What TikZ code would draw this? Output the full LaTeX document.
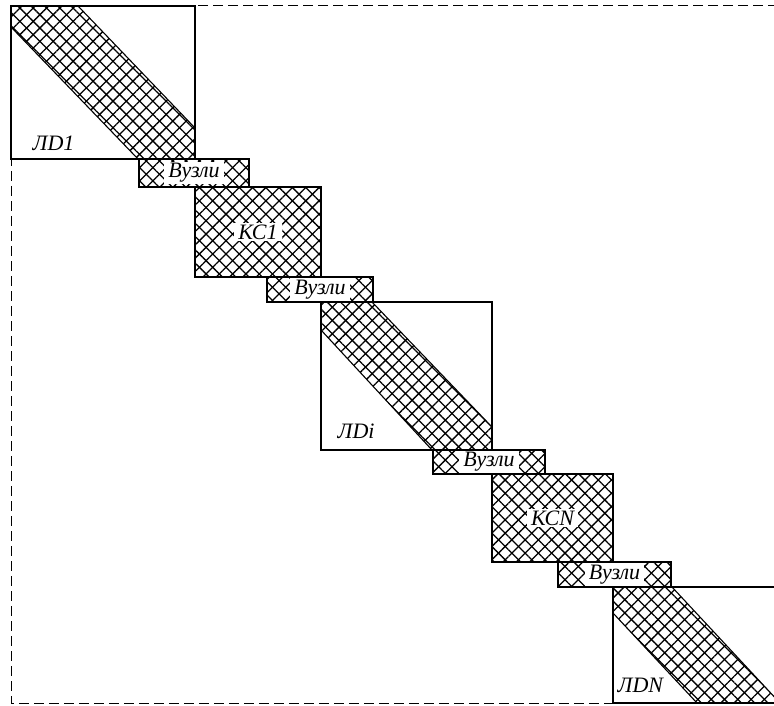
\documentclass[tikz,border=0pt]{standalone}
\usepackage{fontspec}
\setmainfont{Liberation Serif}
\usetikzlibrary{calc,patterns.meta}

\tikzset{
  hatch/.style={preaction={pattern={Lines[angle=45,distance=9.4pt,line width=1.3pt]}},
    pattern={Lines[angle=-45,distance=9.4pt,line width=1.3pt]}},
  box/.style={draw,line width=1.1pt},
  lbl/.style={font=\fontsize{22}{24}\selectfont\itshape,inner sep=1.5pt},
  wlbl/.style={lbl,fill=white,inner xsep=4pt}
}

\begin{document}
\begin{tikzpicture}[x=1pt,y=-1pt]
\useasboundingbox (0,0) rectangle (774,706);
\clip (0,0) rectangle (774,706);
% corners of the blocks
\coordinate (LDa) at (11,6);
\coordinate (LDb) at (195,159);
\coordinate (Va) at (139,159);
\coordinate (Vb) at (249,187);
\coordinate (KCa) at (195,187);
\coordinate (KCb) at (321,277);
\coordinate (Vc) at (267,277);
\coordinate (Vd) at (373,302);
\coordinate (LDc) at (321,302);
\coordinate (LDd) at (492,450);
\coordinate (Ve) at (433,450);
\coordinate (Vf) at (545,474);
\coordinate (KCc) at (492,474);
\coordinate (KCd) at (613,562);
\coordinate (Vg) at (558,562);
\coordinate (Vh) at (671,587);
\coordinate (LDe) at (613,587);
\coordinate (LDf) at (786,703);
% outer frame
\draw[dashed,dash pattern=on 10pt off 5pt,line width=1pt] (LDa) rectangle (800,703);
% diagonal bands
\fill[white] (LDa) rectangle (LDb);
\draw[hatch,line width=1.1pt] (11,6)--(78,6)--(195,128)--(195,159)--(138,159)--(11,27)--cycle;
\fill[white] (LDc) rectangle (LDd);
\draw[hatch,line width=1.1pt] (321,302)--(372,302)--(492,427)--(492,450)--(432,450)--(321,330)--cycle;
\fill[white] (LDe) rectangle (LDf);
\draw[hatch,line width=1.1pt] (613,587)--(672,587)--(780,703)--(697,703)--(613,613)--cycle;
\draw[box] (LDa) rectangle (LDb);
\draw[box] (LDc) rectangle (LDd);
\draw[box] (LDe) rectangle (LDf);
% nodes and subsystems
\draw[box,hatch] (Va) rectangle (Vb);
\draw[box,hatch] (KCa) rectangle (KCb);
\draw[box,hatch] (Vc) rectangle (Vd);
\draw[box,hatch] (Ve) rectangle (Vf);
\draw[box,hatch] (KCc) rectangle (KCd);
\draw[box,hatch] (Vg) rectangle (Vh);
% labels
\node[lbl,anchor=base west] (ld1) at (31,150) {ЛD1};
\node[lbl,anchor=base west] (ldi) at (336,438) {ЛDi};
\node[lbl,anchor=base west] (ldn) at (616,692) {ЛDN};
\node[wlbl] (v1) at ($(Va)!0.5!(Vb)$) {Вузли};
\node[wlbl] (v2) at ($(Vc)!0.5!(Vd)$) {Вузли};
\node[wlbl] (v3) at ($(Ve)!0.5!(Vf)$) {Вузли};
\node[wlbl] (v4) at ($(Vg)!0.5!(Vh)$) {Вузли};
\node[wlbl] (kc1) at ($(KCa)!0.5!(KCb)$) {КС1};
\node[wlbl] (kcn) at ($(KCc)!0.5!(KCd)$) {КСN};
\end{tikzpicture}
\end{document}
